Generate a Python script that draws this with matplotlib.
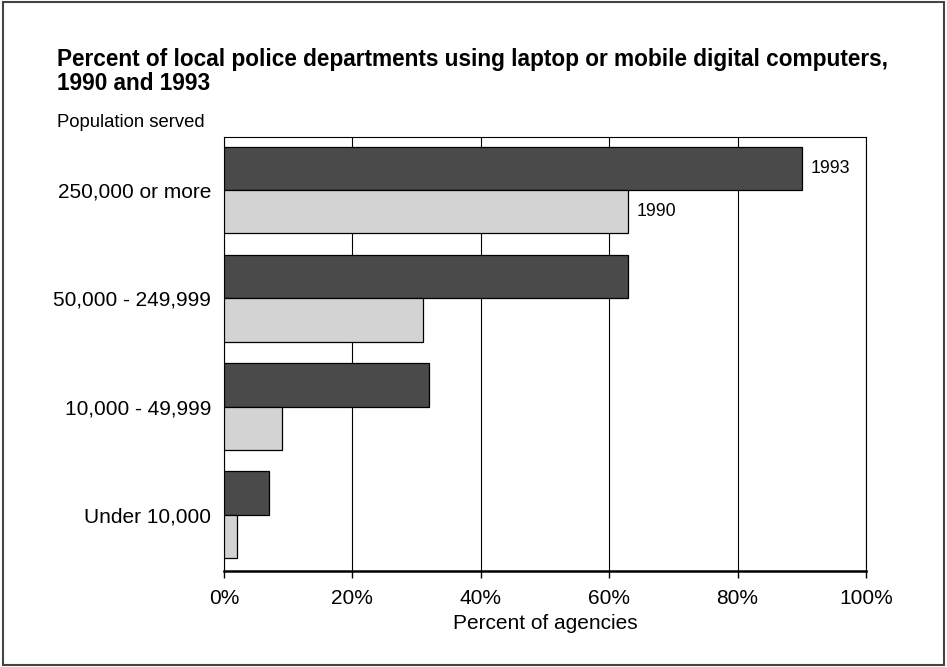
import matplotlib
matplotlib.use('Agg')
import matplotlib.pyplot as plt
from matplotlib.patches import Rectangle

plt.rcParams['font.family'] = ['Liberation Sans', 'DejaVu Sans']

# Population groups, top to bottom
groups = ["250,000 or more", "50,000 - 249,999", "10,000 - 49,999", "Under 10,000"]
pct_1993 = [90, 63, 32, 7]
pct_1990 = [63, 31, 9, 2]
xticks = [0, 20, 40, 60, 80, 100]

dark = "#4a4a4a"
light = "#d3d3d3"

fig = plt.figure(figsize=(9.47, 6.67), dpi=100)
ax = fig.add_axes([0.2365, 0.1439, 0.678, 0.6507])

ypos = list(range(len(groups)))
h = 0.4
ax.barh([y - h / 2 for y in ypos], pct_1993, height=h, color=dark,
        edgecolor="black", linewidth=0.9, zorder=3)
ax.barh([y + h / 2 for y in ypos], pct_1990, height=h, color=light,
        edgecolor="black", linewidth=0.9, zorder=3)

# year labels beside the top pair of bars
ax.text(pct_1993[0] + 1.3, ypos[0] - h / 2, "1993", va="center", ha="left", fontsize=12.8)
ax.text(pct_1990[0] + 1.3, ypos[0] + h / 2, "1990", va="center", ha="left", fontsize=12.8)

ax.set_xlim(0, 100)
ax.set_ylim(3.52, -0.49)
ax.set_xticks(xticks)
ax.set_xticklabels([f"{t}%" for t in xticks], fontsize=15)
ax.set_yticks(ypos)
ax.set_yticklabels(groups, fontsize=15)
ax.tick_params(axis="y", length=0, pad=9.4)
ax.tick_params(axis="x", length=5, width=1, direction="out", pad=8)
ax.xaxis.grid(True, color="black", linewidth=0.8, zorder=0)
ax.set_axisbelow(True)
for s in ax.spines.values():
    s.set_linewidth(0.8)
ax.spines["bottom"].set_linewidth(1.8)
ax.set_xlabel("Percent of agencies", fontsize=15, labelpad=4)

fig.text(57 / 947, 1 - 66 / 667, "Percent of local police departments using laptop or mobile digital computers,",
         fontsize=16.25, fontweight="bold", va="baseline", ha="left")
fig.text(57 / 947, 1 - 90 / 667, "1990 and 1993",
         fontsize=16.25, fontweight="bold", va="baseline", ha="left")
fig.text(57 / 947, 1 - 127 / 667, "Population served", fontsize=13.3, va="baseline", ha="left")

# border around the whole figure
fig.patches.append(Rectangle((0.003, 0.003), 0.994, 0.994, transform=fig.transFigure,
                             fill=False, edgecolor="#444444", linewidth=1.5))

plt.savefig("out.png", dpi=100)
